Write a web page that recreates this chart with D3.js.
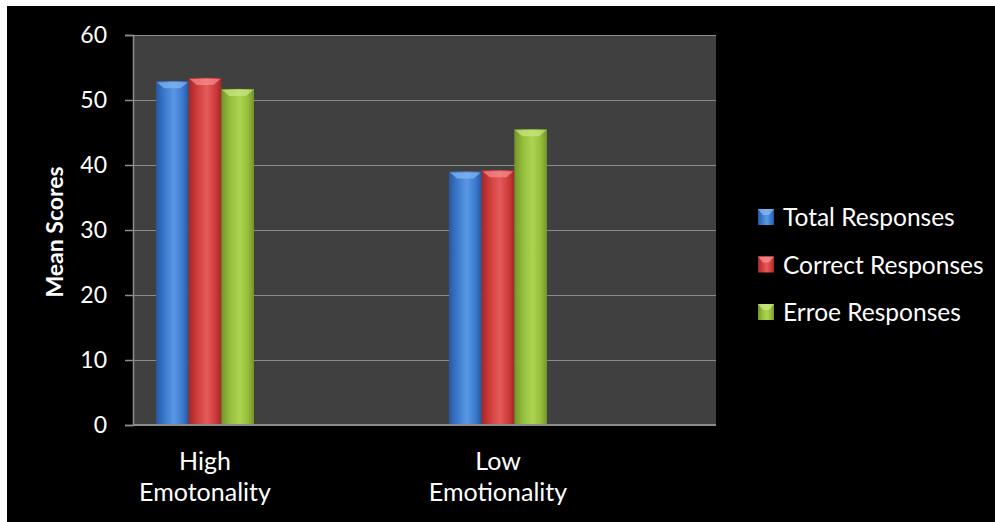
<!DOCTYPE html>
<html>
<head>
<meta charset="utf-8">
<script src="https://cdn.jsdelivr.net/npm/d3@7"></script>
<style>
  html, body { margin: 0; padding: 0; background: #fff; }
  svg { display: block; }
</style>
</head>
<body>
<svg id="chart" width="995" height="522"></svg>
<script>
// Mean scores by emotionality group
const categories = ["High Emotonality", "Low Emotionality"];
const categoryLines = [["High", "Emotonality"], ["Low", "Emotionality"]];
const seriesNames = ["Total Responses", "Correct Responses", "Erroe Responses"];
const totalResponses = [52.9, 39.0];
const correctResponses = [53.4, 39.2];
const erroeResponses = [51.7, 45.5];
const yTicks = [0, 10, 20, 30, 40, 50, 60];
const seriesValues = [totalResponses, correctResponses, erroeResponses];

const colors = [
  { base: "#3a78cc", light: "#5a98e4", dark: "#2858a0", bevel: "#86b8f4" },
  { base: "#cf3b3b", light: "#e45c5c", dark: "#a42828", bevel: "#f79090" },
  { base: "#94bd3a", light: "#acd452", dark: "#72942a", bevel: "#cce884" }
];

const svg = d3.select("#chart");
const W = 995, H = 522;
const FONT = "Lato, 'Open Sans', sans-serif";

// background: white frame on top/left, black chart area
svg.append("rect").attr("width", W).attr("height", H).attr("fill", "#ffffff");
svg.append("rect").attr("x", 7).attr("y", 6).attr("width", W - 7).attr("height", H - 6).attr("fill", "#000000");

const plot = { left: 133, top: 35, right: 716, bottom: 425 };

const y = d3.scaleLinear().domain([0, 60]).range([plot.bottom, plot.top]);
const x = d3.scalePoint().domain(categories).range([205, 498]);
const xs = d3.scaleBand().domain(seriesNames).range([-49, 49]).padding(0);

const defs = svg.append("defs");
colors.forEach((c, i) => {
  const g = defs.append("linearGradient").attr("id", "grad" + i)
    .attr("x1", "0%").attr("x2", "100%").attr("y1", "0%").attr("y2", "0%");
  g.append("stop").attr("offset", "0%").attr("stop-color", c.dark);
  g.append("stop").attr("offset", "25%").attr("stop-color", c.base);
  g.append("stop").attr("offset", "55%").attr("stop-color", c.light);
  g.append("stop").attr("offset", "82%").attr("stop-color", c.base);
  g.append("stop").attr("offset", "100%").attr("stop-color", c.dark);
});
const blur = defs.append("filter").attr("id", "soft").attr("x", "-10%").attr("y", "-10%").attr("width", "120%").attr("height", "120%");
blur.append("feGaussianBlur").attr("stdDeviation", 0.6);

// plot area
svg.append("rect")
  .attr("x", plot.left).attr("y", plot.top)
  .attr("width", plot.right - plot.left).attr("height", plot.bottom - plot.top)
  .attr("fill", "#404040");

// gridlines
svg.append("g").selectAll("line").data(yTicks.filter(t => t > 0)).join("line")
  .attr("x1", plot.left).attr("x2", plot.right)
  .attr("y1", d => y(d) + 0.5).attr("y2", d => y(d) + 0.5)
  .attr("stroke", "#8c8c8c").attr("stroke-width", 1);

// y axis
const yAxis = svg.append("g").attr("transform", `translate(${plot.left},0)`)
  .call(d3.axisLeft(y).tickValues(yTicks).tickSize(8).tickPadding(18));
yAxis.select(".domain").attr("stroke", "#8c8c8c").attr("stroke-width", 1.5);
yAxis.selectAll(".tick line").attr("stroke", "#8c8c8c").attr("stroke-width", 1.5);
yAxis.selectAll(".tick text").attr("fill", "#ffffff")
  .style("font-family", FONT).style("font-size", "23px");

// bars
const groups = svg.append("g").selectAll("g").data(seriesNames).join("g");
groups.each(function (name, si) {
  const g = d3.select(this);
  const data = seriesValues[si].map((v, ci) => ({ cat: categories[ci], v }));
  const bw = xs.bandwidth();
  const bars = g.selectAll("g").data(data).join("g")
    .attr("transform", d => `translate(${x(d.cat) + xs(name)},0)`);
  bars.append("rect")
    .attr("x", 0).attr("y", d => y(d.v))
    .attr("width", bw).attr("height", d => y(0) - y(d.v))
    .attr("fill", `url(#grad${si})`)
    .attr("filter", "url(#soft)");
  // bevelled top face
  bars.append("path")
    .attr("d", d => {
      const t = y(d.v), h = 7;
      return `M1,${t + 1} L${bw - 1},${t + 1} L${bw - 8},${t + h} L8,${t + h} Z`;
    })
    .attr("fill", colors[si].bevel).attr("opacity", 0.7)
    .attr("filter", "url(#soft)");
});

// x axis line
svg.append("line")
  .attr("x1", plot.left).attr("x2", plot.right)
  .attr("y1", plot.bottom).attr("y2", plot.bottom)
  .attr("stroke", "#8c8c8c").attr("stroke-width", 2);

// category labels
const xl = svg.append("g").selectAll("text").data(categories).join("text")
  .attr("x", d => x(d))
  .attr("y", 470)
  .attr("text-anchor", "middle")
  .attr("fill", "#ffffff")
  .style("font-family", FONT).style("font-size", "25px");
xl.each(function (d, i) {
  const t = d3.select(this);
  categoryLines[i].forEach((line, k) => {
    t.append("tspan").attr("x", x(d)).attr("dy", k === 0 ? 0 : 31).text(line);
  });
});

// y axis title
svg.append("text")
  .attr("transform", `translate(63,${232}) rotate(-90)`)
  .attr("text-anchor", "middle")
  .attr("fill", "#ffffff")
  .style("font-family", FONT).style("font-size", "23px").style("font-weight", "bold")
  .text("Mean Scores");

// legend
const legend = svg.append("g").selectAll("g").data(seriesNames).join("g")
  .attr("transform", (d, i) => `translate(758,${217 + i * 47.5})`);
legend.append("rect")
  .attr("x", 0).attr("y", -8).attr("width", 16).attr("height", 16)
  .attr("fill", (d, i) => `url(#grad${i})`);
legend.append("path")
  .attr("d", "M0,-8 L16,-8 L11,-2 L5,-2 Z")
  .attr("fill", (d, i) => colors[i].bevel).attr("opacity", 0.75);
legend.append("text")
  .attr("x", 25).attr("y", 9)
  .attr("fill", "#ffffff")
  .style("font-family", FONT).style("font-size", "24.5px")
  .text(d => d);
</script>
</body>
</html>
